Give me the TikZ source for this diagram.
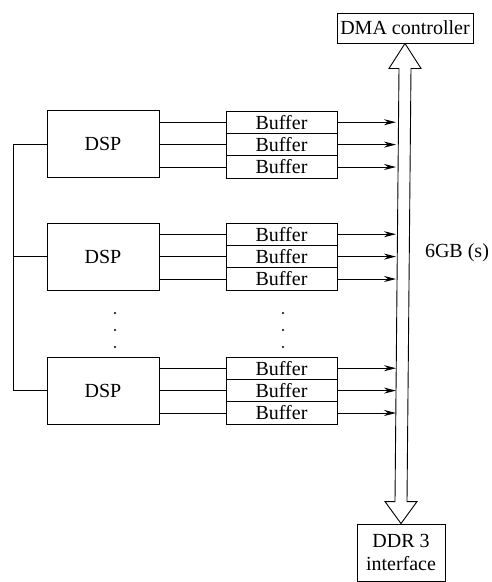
\documentclass[tikz,border=0pt]{standalone}
\usepackage{fontspec}
\setmainfont{Liberation Serif}
\usetikzlibrary{positioning, arrows.meta, calc}

\begin{document}
\begin{tikzpicture}[
  x=1pt, y=1pt,
  line width=0.9pt,
  >={Stealth[length=12pt,width=6pt]},
  every node/.style={font=\fontsize{20}{23}\selectfont},
  dsp/.style={
    rectangle, draw=black, fill=white,
    minimum width=112pt, minimum height=67pt, inner sep=0pt
  },
  buffer/.style={
    rectangle, draw=black, fill=white, outer sep=0pt,
    minimum width=111pt, minimum height=22.4pt, inner sep=0pt
  },
  ctrl/.style={
    rectangle, draw=black, fill=white,
    minimum width=136pt, minimum height=30pt, inner sep=0pt, align=center
  },
  dot/.style={circle, fill=black, inner sep=0pt, minimum size=2.4pt},
]

\useasboundingbox (0,0) rectangle (492,-582);

% DSP boxes
\node[dsp] (dsp1) at (103,-144) {DSP};
\node[dsp] (dsp2) at (103,-256.5) {DSP};
\node[dsp] (dsp3) at (103,-390.5) {DSP};

% Buffers, first stack
\node[buffer, anchor=north] (buf1a) at (281.5,-111) {Buffer};
\node[buffer, below=0pt of buf1a] (buf1b) {Buffer};
\node[buffer, below=0pt of buf1b] (buf1c) {Buffer};

% Buffers, second stack
\node[buffer, anchor=north] (buf2a) at (281.5,-223) {Buffer};
\node[buffer, below=0pt of buf2a] (buf2b) {Buffer};
\node[buffer, below=0pt of buf2b] (buf2c) {Buffer};

% Buffers, last stack
\node[buffer, anchor=north] (buf3a) at (281.5,-357) {Buffer};
\node[buffer, below=0pt of buf3a] (buf3b) {Buffer};
\node[buffer, below=0pt of buf3b] (buf3c) {Buffer};

% Dots
\node[dot] (dsdot1) at (115,-313) {};
\node[dot] (dsdot2) at (115,-330) {};
\node[dot] (dsdot3) at (115,-347) {};
\node[dot] (bfdot1) at (283,-313) {};
\node[dot] (bfdot2) at (283,-330) {};
\node[dot] (bfdot3) at (283,-347) {};

% DMA controller and DDR 3
\node[ctrl] (dma) at (405,-28) {DMA controller};
\node[ctrl, minimum width=88pt, minimum height=57pt] (ddr) at (401,-552.5)
  {DDR 3\\interface};

% Rate label
\node (rate) at (457,-253) {6GB (s)};

% Left line joining the DSPs
\coordinate (trunk) at (13,0);
\draw (dsp1.west) -- (dsp1.west -| trunk) -- (dsp3.west -| trunk) -- (dsp3.west);
\draw (dsp2.west) -- (dsp2.west -| trunk);

% DSP to buffers
\draw (dsp1.east |- buf1a) -- (buf1a.west);
\draw (dsp1.east |- buf1b) -- (buf1b.west);
\draw (dsp1.east |- buf1c) -- (buf1c.west);
\draw (dsp2.east |- buf2a) -- (buf2a.west);
\draw (dsp2.east |- buf2b) -- (buf2b.west);
\draw (dsp2.east |- buf2c) -- (buf2c.west);
\draw (dsp3.east |- buf3a) -- (buf3a.west);
\draw (dsp3.east |- buf3b) -- (buf3b.west);
\draw (dsp3.east |- buf3c) -- (buf3c.west);

% Buffers to the bus
\coordinate (bus) at (396,0);
\draw[->] (buf1a.east) -- (buf1a.east -| bus);
\draw[->] (buf1b.east) -- (buf1b.east -| bus);
\draw[->] (buf1c.east) -- (buf1c.east -| bus);
\draw[->] (buf2a.east) -- (buf2a.east -| bus);
\draw[->] (buf2b.east) -- (buf2b.east -| bus);
\draw[->] (buf2c.east) -- (buf2c.east -| bus);
\draw[->] (buf3a.east) -- (buf3a.east -| bus);
\draw[->] (buf3b.east) -- (buf3b.east -| bus);
\draw[->] (buf3c.east) -- (buf3c.east -| bus);

% Double arrow between DMA and DDR 3
\draw[fill=white] (dma.south) -- ++(16,-25) -- ++(-10,0)
  -- ($(ddr.north)+(6,22)$) -- ++(10,0) -- (ddr.north)
  -- ++(-16,22) -- ++(10,0)
  -- ($(dma.south)+(-6,-25)$) -- ++(-10,0) -- cycle;

\end{tikzpicture}
\end{document}
